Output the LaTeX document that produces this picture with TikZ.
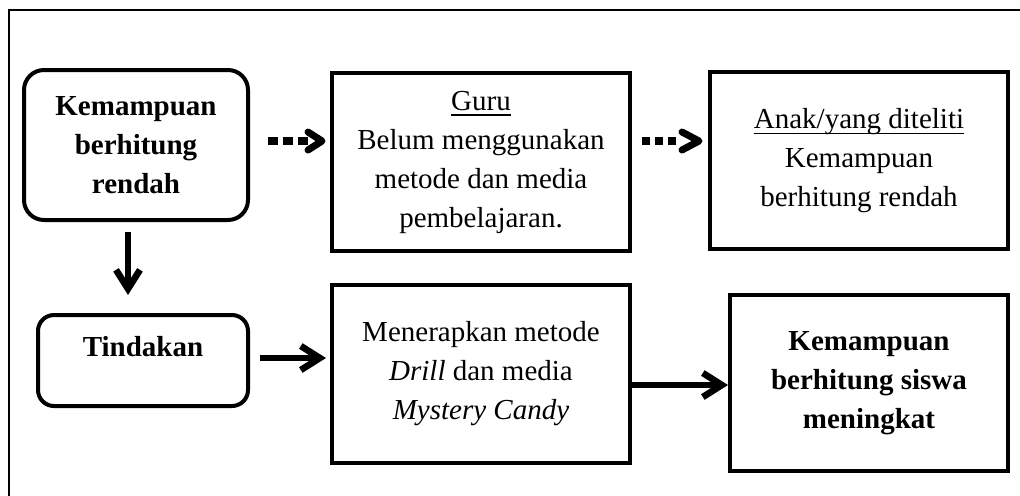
\documentclass[tikz,border=0pt]{standalone}
\usepackage{fontspec}
\setmainfont{Liberation Serif}
\usetikzlibrary{arrows.meta}
\newcommand\myul[1]{\setbox0\hbox{#1}\rlap{\rule[-3pt]{\wd0}{0.9pt}}\box0}
\begin{document}
\begin{tikzpicture}[x=0.5pt,y=-0.5pt,
  txt/.style={font=\fontsize{14.5pt}{19.5pt}\selectfont,align=center},
  sq/.style={txt,draw,line width=2pt,inner sep=0pt,outer sep=0pt},
  rnd/.style={sq,rounded corners=10pt},
  arr/.style={line width=3.3pt,-{Straight Barb[length=9.5pt,width=12pt,line width=3.3pt]}},
  dots/.style={line width=4pt,line cap=butt},
  chev/.style={line width=3.5pt,line cap=round,line join=round}]
\useasboundingbox (0,0) rectangle (1020,495);
\clip (0,0) rectangle (1020,495);
\draw[line width=1pt] (9,10) rectangle (1040,520);
% nodes
\node[rnd,minimum width=112pt,minimum height=75pt] (b1) at (136,145) {\textbf{Kemampuan}\\\textbf{berhitung}\\\textbf{rendah}};
\node[sq,minimum width=149pt,minimum height=89pt] (b2) at (481,162) {\myul{Guru}\\Belum menggunakan\\metode dan media\\pembelajaran.};
\node[sq,minimum width=149pt,minimum height=88.5pt] (b3) at (859,160.5) {\myul{Anak/yang diteliti}\\Kemampuan\\berhitung rendah};
\node[rnd,rounded corners=8pt,minimum width=105pt,minimum height=45.5pt] (t) at (143,360.5) {};
\node[txt] (tt) at (143,347) {\textbf{Tindakan}};
\node[sq,minimum width=149pt,minimum height=89pt] (b4) at (481,374) {Menerapkan metode\\\textit{Drill} dan media\\\textit{Mystery Candy}};
\node[sq,minimum width=139pt,minimum height=88pt] (b5) at (869,383) {\textbf{Kemampuan}\\\textbf{berhitung siswa}\\\textbf{meningkat}};
\coordinate (ax) at (128,0);
\coordinate (d1) at (0,141);
\coordinate (d2) at (0,141);
\coordinate (a2) at (0,358);
\coordinate (a3) at (0,385);
% connectors
\draw[dots,dash pattern=on 5pt off 2.5pt,shorten <=10pt,shorten >=12pt] (b1.east |- d1) -- (b2.west |- d1);
\draw[chev] ([shift={(-24,-9)}]b2.west |- d1) -- ([shift={(-10,0)}]b2.west |- d1) -- ([shift={(-24,9)}]b2.west |- d1);
\draw[dots,dash pattern=on 4pt off 2.5pt,shorten <=6pt,shorten >=17pt] (b2.east |- d2) -- (b3.west |- d2);
\draw[chev] ([shift={(-28,-9)}]b3.west |- d2) -- ([shift={(-11,0)}]b3.west |- d2) -- ([shift={(-28,9)}]b3.west |- d2);
\draw[arr,shorten <=6pt,shorten >=10pt] (b1.south -| ax) -- (t.north -| ax);
\draw[arr,shorten <=6pt,shorten >=3pt] (t.east |- a2) -- (b4.west |- a2);
\draw[arr,shorten >=1pt] (b4.east |- a3) -- (b5.west |- a3);
\end{tikzpicture}
\end{document}
